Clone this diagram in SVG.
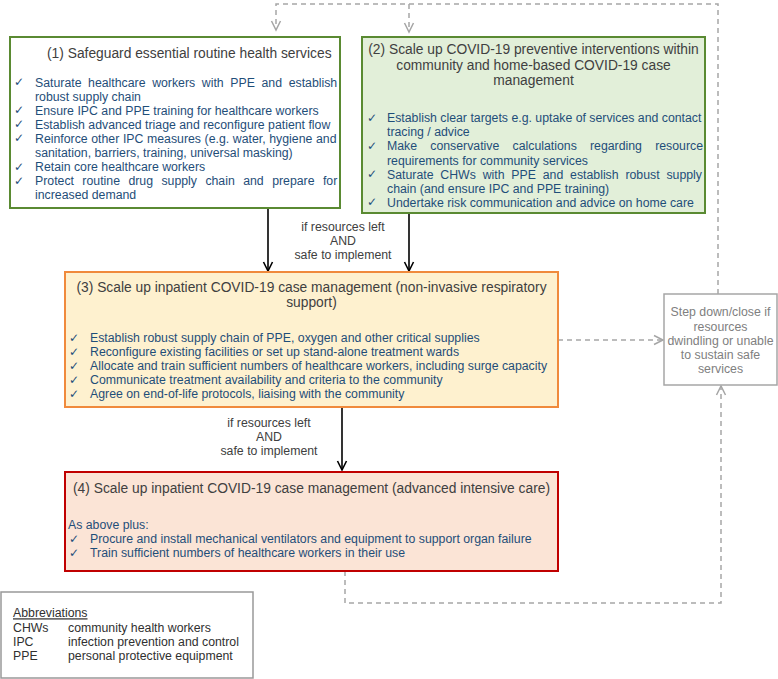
<svg xmlns="http://www.w3.org/2000/svg" width="778" height="679" viewBox="0 0 778 679">
<style>
text{font-family:"Liberation Sans",Arial,sans-serif}
.t{font-size:13.8px;fill:#404040}
.b{font-size:12.3px;fill:#1f4e79}
.ck{font-family:"DejaVu Sans",sans-serif;font-size:12px;fill:#1f4e79}
.g{font-size:12.3px;fill:#404040}
.s{font-size:12.3px;fill:#808080}
.a{font-size:12.3px;fill:#303030}
.solid{fill:none;stroke:#000;stroke-width:1.6}
.dash{fill:none;stroke:#a6a6a6;stroke-width:1.5;stroke-dasharray:5 4}
</style>
<defs>
<marker id="ab" viewBox="-1 -6 12 12" markerWidth="12" markerHeight="12" refX="9" refY="0" orient="auto" markerUnits="userSpaceOnUse">
<path d="M0,-4.5 L9,0 L0,4.5" fill="none" stroke="#000" stroke-width="1.6"/>
</marker>
<marker id="ag" viewBox="-1 -6 12 12" markerWidth="12" markerHeight="12" refX="9" refY="0" orient="auto" markerUnits="userSpaceOnUse">
<path d="M0,-4.5 L9,0 L0,4.5" fill="none" stroke="#a6a6a6" stroke-width="1.5"/>
</marker>
</defs>
<rect width="778" height="679" fill="#fff"/>

<g id="connectors">
<path class="dash" d="M718,294 V4 H276 V30" marker-end="url(#ag)"/>
<path class="dash" d="M409,4 V32" marker-end="url(#ag)"/>
<path class="dash" d="M558,340 H663" marker-end="url(#ag)"/>
<path class="dash" d="M345,571 V603 H721 V386" marker-end="url(#ag)"/>
<path class="solid" d="M268,208 V271" marker-end="url(#ab)"/>
<path class="solid" d="M409,213 V271" marker-end="url(#ab)"/>
<path class="solid" d="M342,407 V470" marker-end="url(#ab)"/>
<text class="g" text-anchor="middle"><tspan x="343" y="230.5">if resources left</tspan><tspan x="343" y="244.5">AND</tspan><tspan x="343" y="258.5">safe to implement</tspan></text>
<text class="g" text-anchor="middle"><tspan x="269" y="426.5">if resources left</tspan><tspan x="269" y="440.5">AND</tspan><tspan x="269" y="454.5">safe to implement</tspan></text>
</g>

<g id="node1">
<rect x="10" y="37" width="330" height="171" fill="#fff" stroke="#5a8a32" stroke-width="2"/>
<text class="t" x="47" y="58">(1) Safeguard essential routine health services</text>
<text class="ck"><tspan x="14" y="86">✓</tspan><tspan x="14" y="114.2">✓</tspan><tspan x="14" y="128.3">✓</tspan><tspan x="14" y="142.4">✓</tspan><tspan x="14" y="170.6">✓</tspan><tspan x="14" y="184.7">✓</tspan></text>
<text class="b" x="35" y="86.5" word-spacing="3.2">Saturate healthcare workers with PPE and establish</text>
<text class="b" x="35" y="100.6">robust supply chain</text>
<text class="b" x="35" y="114.7">Ensure IPC and PPE training for healthcare workers</text>
<text class="b" x="35" y="128.8">Establish advanced triage and reconfigure patient flow</text>
<text class="b" x="35" y="142.9" word-spacing="0.2">Reinforce other IPC measures (e.g. water, hygiene and</text>
<text class="b" x="35" y="157">sanitation, barriers, training, universal masking)</text>
<text class="b" x="35" y="171.1">Retain core healthcare workers</text>
<text class="b" x="35" y="185.2" word-spacing="5">Protect routine drug supply chain and prepare for</text>
<text class="b" x="35" y="199.3">increased demand</text>
</g>

<g id="node2">
<rect x="362" y="37" width="343" height="176" fill="#e2efd9" stroke="#5a8a32" stroke-width="2"/>
<text class="t" text-anchor="middle"><tspan x="533.5" y="54">(2) Scale up COVID-19 preventive interventions within</tspan><tspan x="533.5" y="69.5">community and home-based COVID-19 case</tspan><tspan x="533.5" y="85">management</tspan></text>
<text class="ck"><tspan x="367" y="122">✓</tspan><tspan x="367" y="150.1">✓</tspan><tspan x="367" y="178.3">✓</tspan><tspan x="367" y="206.4">✓</tspan></text>
<text class="b" x="387" y="122.3">Establish clear targets e.g. uptake of services and contact</text>
<text class="b" x="387" y="136.4">tracing / advice</text>
<text class="b" x="387" y="150.4" word-spacing="9.8">Make conservative calculations regarding resource</text>
<text class="b" x="387" y="164.5">requirements for community services</text>
<text class="b" x="387" y="178.6" word-spacing="3.4">Saturate CHWs with PPE and establish robust supply</text>
<text class="b" x="387" y="192.6">chain (and ensure IPC and PPE training)</text>
<text class="b" x="387" y="206.7">Undertake risk communication and advice on home care</text>
</g>

<g id="node3">
<rect x="65" y="272" width="493" height="135" fill="#fef1cf" stroke="#f08a3c" stroke-width="2"/>
<text class="t" text-anchor="middle"><tspan x="311.5" y="291.5">(3) Scale up inpatient COVID-19 case management (non-invasive respiratory</tspan><tspan x="311.5" y="307">support)</tspan></text>
<text class="ck"><tspan x="69" y="342">✓</tspan><tspan x="69" y="356">✓</tspan><tspan x="69" y="370">✓</tspan><tspan x="69" y="384">✓</tspan><tspan x="69" y="398">✓</tspan></text>
<text class="b" x="90"><tspan x="90" y="342.3">Establish robust supply chain of PPE, oxygen and other critical supplies</tspan><tspan x="90" y="356.3">Reconfigure existing facilities or set up stand-alone treatment wards</tspan><tspan x="90" y="370.3">Allocate and train sufficient numbers of healthcare workers, including surge capacity</tspan><tspan x="90" y="384.3">Communicate treatment availability and criteria to the community</tspan><tspan x="90" y="398.3">Agree on end-of-life protocols, liaising with the community</tspan></text>
</g>

<g id="node4">
<rect x="65" y="472" width="493" height="99" fill="#fbe4d6" stroke="#c00000" stroke-width="2"/>
<text class="t" x="73" y="493.3">(4) Scale up inpatient COVID-19 case management (advanced intensive care)</text>
<text class="b" x="68" y="529">As above plus:</text>
<text class="ck"><tspan x="69" y="543">✓</tspan><tspan x="69" y="556.5">✓</tspan></text>
<text class="b"><tspan x="90" y="543.3">Procure and install mechanical ventilators and equipment to support organ failure</tspan><tspan x="90" y="556.8">Train sufficient numbers of healthcare workers in their use</tspan></text>
</g>

<g id="node5">
<rect x="664" y="294" width="113" height="91" fill="#fff" stroke="#a6a6a6" stroke-width="1.5"/>
<text class="s" text-anchor="middle"><tspan x="720.5" y="316">Step down/close if</tspan><tspan x="720.5" y="330.5">resources</tspan><tspan x="720.5" y="344.5">dwindling or unable</tspan><tspan x="720.5" y="358.5">to sustain safe</tspan><tspan x="720.5" y="372.5">services</tspan></text>
</g>

<g id="abbreviations">
<rect x="1" y="592" width="252" height="86" fill="#fff" stroke="#999" stroke-width="1.5"/>
<text class="a" x="13" y="617.3" text-decoration="underline">Abbreviations</text>
<text class="a"><tspan x="13" y="631.7">CHWs</tspan><tspan x="13" y="646">IPC</tspan><tspan x="13" y="660">PPE</tspan></text>
<text class="a"><tspan x="68" y="631.7">community health workers</tspan><tspan x="68" y="646">infection prevention and control</tspan><tspan x="68" y="660">personal protective equipment</tspan></text>
</g>
</svg>
